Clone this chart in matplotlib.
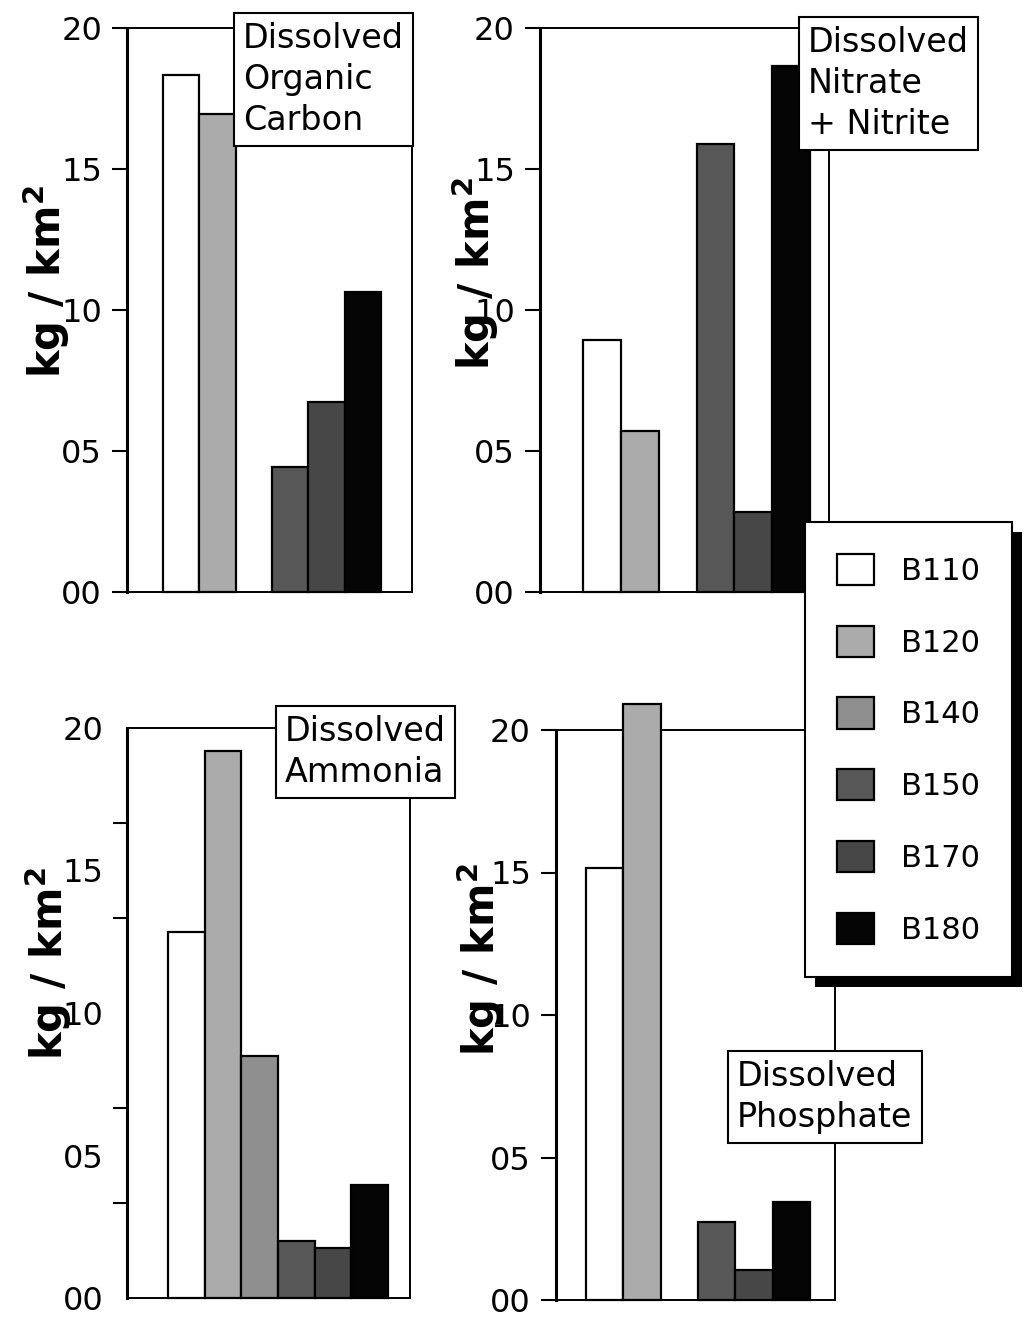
import numpy as np
import matplotlib
matplotlib.use("Agg")
import matplotlib.pyplot as plt
from matplotlib.patches import Patch, Rectangle

# ---- data ----
stations = ["B110", "B120", "B140", "B150", "B170", "B180"]
doc = [18.35, 16.95, np.nan, 4.45, 6.75, 10.65]
nitrate = [8.95, 5.7, np.nan, 15.9, 2.85, 18.65]
ammonia = [12.85, 19.2, 8.5, 2.0, 1.75, 3.95]
phosphate = [15.15, 20.9, np.nan, 2.75, 1.05, 3.45]
titles = ["Dissolved\nOrganic\nCarbon", "Dissolved\nNitrate\n+ Nitrite",
          "Dissolved\nAmmonia", "Dissolved\nPhosphate"]
tick_vals = [0, 5, 10, 15, 20]
tick_labels = ["00", "05", "10", "15", "20"]
ylabel = r"kg / km$^\mathbf{2}$"

colors = ["#ffffff", "#ababab", "#8f8f8f", "#575757", "#474747", "#050505"]

plt.rcParams['font.family'] = ['DejaVu Sans']
W, H = 1025, 1325
fig = plt.figure(figsize=(W / 100, H / 100), dpi=100)
fig.patch.set_facecolor("white")

def fx(px):
    return px / W

def fy(py):
    return 1 - py / H

# panel geometry in pixels: left, right, top, bottom
geo = [(127, 412, 28, 592), (540, 829, 28, 592),
       (127, 410, 728, 1298), (556, 835, 730, 1300)]
xlims = [(-1.49, 6.35), (-1.64, 6.0), (-1.62, 6.1), (-1.3, 6.17)]
label_pos = [(-0.285, 0.55), (-0.225, 0.565), (-0.28, 0.586), (-0.272, 0.598)]
title_pos = [(243, 22), (808, 26), (285, 715), (737, 1060)]
series = [doc, nitrate, ammonia, phosphate]

x = np.arange(len(stations))
for i, (vals, g) in enumerate(zip(series, geo)):
    l, r, t, b = g
    ax = fig.add_axes([fx(l), fy(b), fx(r) - fx(l), fy(t) - fy(b)])
    ax.set_xlim(*xlims[i])
    ax.set_ylim(0, 20)
    for xi, v, c in zip(x, vals, colors):
        if np.isnan(v):
            continue
        ax.bar(xi, v, width=1.0, color=c, edgecolor="black", linewidth=1.6,
               zorder=3, clip_on=False)
    ax.set_xticks([])
    if i == 2:
        ax.set_yticks(tick_vals)
        ax.set_yticklabels(tick_labels)
        ax.tick_params(axis="y", which="major", length=0, pad=17)
        ax.set_yticks(np.linspace(0, 20, 7), minor=True)
        ax.tick_params(axis="y", which="minor", direction="out", length=10,
                       width=1.5)
    else:
        ax.set_yticks(tick_vals)
        ax.set_yticklabels(tick_labels)
        ax.tick_params(axis="y", which="major", direction="out", length=11,
                       width=1.5, pad=7)
    ax.tick_params(axis="y", labelsize=23)
    for s in ax.spines.values():
        s.set_linewidth(1.4)
    ax.spines["left"].set_linewidth(2.2)
    ax.set_ylabel(ylabel, fontsize=30, fontweight="bold", va="center")
    ax.yaxis.set_label_coords(*label_pos[i])
    tx, ty = title_pos[i]
    fig.text(fx(tx), fy(ty), titles[i], ha="left", va="top", fontsize=24,
             linespacing=1.3, zorder=10,
             bbox=dict(boxstyle="square,pad=0.28", facecolor="white",
                       edgecolor="black", linewidth=1.5))

handles = [Patch(facecolor=c, edgecolor="black", linewidth=1.6) for c in colors]
leg = fig.legend(handles, stations, loc="upper left",
                 bbox_to_anchor=(fx(805), fy(522)), borderaxespad=0,
                 fontsize=22, handlelength=1.2, handleheight=1.2,
                 handletextpad=0.9, labelspacing=1.3, borderpad=1.05,
                 fancybox=False, framealpha=1, edgecolor="black")
leg.get_frame().set_linewidth(1.5)
leg.set_zorder(6)

fig.canvas.draw()
bb = leg.get_window_extent()
inv = fig.transFigure.inverted()
(x0, y0) = inv.transform((bb.x0 + 10, bb.y0 - 10))
(x1, y1) = inv.transform((bb.x1 + 10, bb.y1 - 10))
shadow = Rectangle((x0, y0), x1 - x0, y1 - y0, transform=fig.transFigure,
                   facecolor="black", edgecolor="none", zorder=5)
fig.patches.append(shadow)

fig.savefig("out.png", dpi=100)
